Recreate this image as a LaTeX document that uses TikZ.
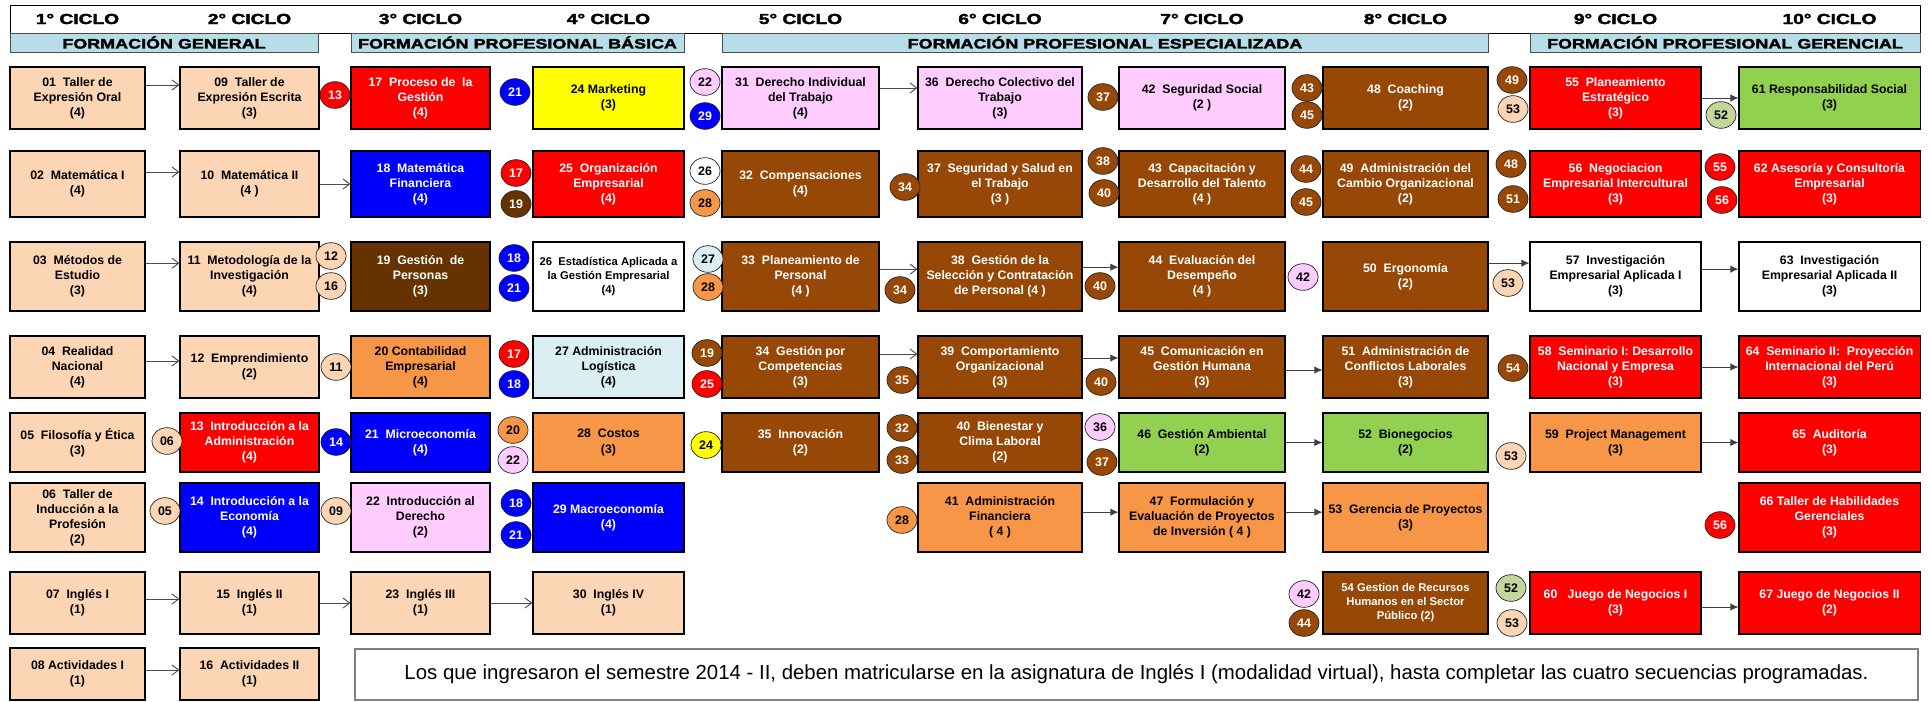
\documentclass[tikz,border=0pt]{standalone}
\usepackage{fontspec}
\setmainfont{Liberation Sans}
\newfontfamily\heavyfont[FakeStretch=1.32,FakeBold=2.5]{Liberation Sans Bold}
\usetikzlibrary{shapes.geometric,arrows.meta}

\definecolor{peach}{HTML}{FCD5B4}
\definecolor{redfill}{HTML}{FF0000}
\definecolor{bluefill}{HTML}{0000FF}
\definecolor{yellowfill}{HTML}{FFFF00}
\definecolor{darkbrown}{HTML}{663300}
\definecolor{chestnut}{HTML}{974706}
\definecolor{orangefill}{HTML}{F79646}
\definecolor{pinkfill}{HTML}{FFCCFF}
\definecolor{greenfill}{HTML}{92D050}
\definecolor{iceblue}{HTML}{DBEEF3}
\definecolor{bandblue}{HTML}{B7DEE8}
\definecolor{sage}{HTML}{C4D79B}

\newcommand{\coursefont}{\fontsize{10.5pt}{12.9pt}\selectfont\bfseries}
\newcommand{\smallcoursefont}{\fontsize{9.6pt}{11.9pt}\selectfont\bfseries}
\newcommand{\badgefont}{\fontsize{10.6pt}{11pt}\selectfont\bfseries}

\begin{document}
\begin{tikzpicture}[x=0.03cm, y=-0.03cm,
  course/.style={draw=black, line width=0.9pt, align=center, inner sep=1pt, font=\coursefont},
  pre/.style={ellipse, draw=black!85, line width=0.6pt, inner sep=0pt, minimum width=0.9cm, minimum height=0.8cm, font=\badgefont},
  cycle/.style={font=\heavyfont\fontsize{12.4pt}{13pt}\selectfont},
  band/.style={draw=black!70, line width=0.8pt, fill=bandblue, minimum height=0.57cm, inner sep=0pt, font=\heavyfont\fontsize{11.6pt}{12pt}\selectfont},
  note/.style={draw=black!50, line width=1.2pt, minimum width=46.89cm, minimum height=1.53cm, font=\fontsize{17.4pt}{19pt}\selectfont},
  link/.style={-{Straight Barb[length=2mm,width=3mm]}, draw=black!70, line width=0.8pt},
  flow/.style={-{Latex[length=2.4mm,width=2.2mm]}, draw=black!75, line width=0.8pt},
  w1/.style={minimum width=4.05cm}, w2/.style={minimum width=4.17cm},
  w3/.style={minimum width=4.17cm}, w4/.style={minimum width=4.53cm},
  w5/.style={minimum width=4.71cm}, w6/.style={minimum width=4.92cm},
  w7/.style={minimum width=4.98cm}, w8/.style={minimum width=4.95cm},
  w9/.style={minimum width=5.13cm}, w10/.style={minimum width=5.43cm},
  h1/.style={minimum height=1.86cm}, h2/.style={minimum height=1.98cm},
  h3/.style={minimum height=2.07cm}, h4/.style={minimum height=1.86cm},
  h5/.style={minimum height=1.77cm}, h6/.style={minimum height=2.07cm},
  h7/.style={minimum height=1.86cm}, h8/.style={minimum height=1.56cm},
  kPeach/.style={fill=peach}, kRed/.style={fill=redfill, text=white},
  kBlue/.style={fill=bluefill, text=white}, kYellow/.style={fill=yellowfill},
  kDark/.style={fill=darkbrown, text=white}, kBrown/.style={fill=chestnut, text=white},
  kOrange/.style={fill=orangefill}, kPink/.style={fill=pinkfill},
  kGreen/.style={fill=greenfill}, kIce/.style={fill=iceblue},
  kWhite/.style={fill=white}, kSage/.style={fill=sage}]
  \useasboundingbox (0,0) rectangle (1931,702);
  \fill[white] (0,0) rectangle (1931,702);

  % header
  \draw[line width=0.8pt] (10,5) rectangle (1920,33);
  \node[cycle] (cic1) at (77.5,19) {1° CICLO};
  \node[cycle] (cic2) at (249.5,19) {2° CICLO};
  \node[cycle] (cic3) at (420.5,19) {3° CICLO};
  \node[cycle] (cic4) at (608.5,19) {4° CICLO};
  \node[cycle] (cic5) at (800.5,19) {5° CICLO};
  \node[cycle] (cic6) at (1000,19) {6° CICLO};
  \node[cycle] (cic7) at (1202,19) {7° CICLO};
  \node[cycle] (cic8) at (1405.5,19) {8° CICLO};
  \node[cycle] (cic9) at (1615.5,19) {9° CICLO};
  \node[cycle] (cic10) at (1829.5,19) {10° CICLO};
  \node[band, minimum width=9.24cm] (fgen) at (164,42.5) {FORMACIÓN GENERAL};
  \node[band, minimum width=9.99cm] (fbas) at (517.5,42.5) {FORMACIÓN PROFESIONAL BÁSICA};
  \node[band, minimum width=22.98cm] (fesp) at (1105,42.5) {FORMACIÓN PROFESIONAL ESPECIALIZADA};
  \node[band, minimum width=11.7cm] (fger) at (1725,42.5) {FORMACIÓN PROFESIONAL GERENCIAL};

  % row 1
  \node[course, kPeach, w1, h1] (c01) at (77.5,98) {01~ Taller de\\Expresión Oral\\(4)};
  \node[course, kPeach, w2, h1] (c09) at (249.5,98) {09~ Taller de\\Expresión Escrita\\(3)};
  \node[course, kRed, w3, h1] (c17) at (420.5,98) {17~ Proceso de~ la\\Gestión\\(4)};
  \node[course, kYellow, w4, h1] (c24) at (608.5,98) {24 Marketing\\(3)};
  \node[course, kPink, w5, h1] (c31) at (800.5,98) {31~ Derecho Individual\\del Trabajo\\(4)};
  \node[course, kPink, w6, h1] (c36) at (1000,98) {36~ Derecho Colectivo del\\Trabajo\\(3)};
  \node[course, kPink, w7, h1] (c42) at (1202,98) {42~ Seguridad Social\\(2 )};
  \node[course, kBrown, w8, h1] (c48) at (1405.5,98) {48~ Coaching\\(2)};
  \node[course, kRed, w9, h1] (c55) at (1615.5,98) {55~ Planeamiento\\Estratégico\\(3)};
  \node[course, kGreen, w10, h1] (c61) at (1829.5,98) {61 Responsabilidad Social\\(3)};

  % row 2
  \node[course, kPeach, w1, h2] (c02) at (77.5,184) {02~ Matemática I\\(4)};
  \node[course, kPeach, w2, h2] (c10) at (249.5,184) {10~ Matemática II\\(4 )};
  \node[course, kBlue, w3, h2] (c18) at (420.5,184) {18~ Matemática\\Financiera\\(4)};
  \node[course, kRed, w4, h2] (c25) at (608.5,184) {25~ Organización\\Empresarial\\(4)};
  \node[course, kBrown, w5, h2] (c32) at (800.5,184) {32~ Compensaciones\\(4)};
  \node[course, kBrown, w6, h2] (c37) at (1000,184) {37~ Seguridad y Salud en\\el Trabajo\\(3 )};
  \node[course, kBrown, w7, h2] (c43) at (1202,184) {43~ Capacitación y\\Desarrollo del Talento\\(4 )};
  \node[course, kBrown, w8, h2] (c49) at (1405.5,184) {49~ Administración del\\Cambio Organizacional\\(2)};
  \node[course, kRed, w9, h2] (c56) at (1615.5,184) {56~ Negociacion\\Empresarial Intercultural\\(3)};
  \node[course, kRed, w10, h2] (c62) at (1829.5,184) {62 Asesoría y Consultoría\\Empresarial\\(3)};

  % row 3
  \node[course, kPeach, w1, h3] (c03) at (77.5,276.5) {03~ Métodos de\\Estudio\\(3)};
  \node[course, kPeach, w2, h3] (c11) at (249.5,276.5) {11~ Metodología de la\\Investigación\\(4)};
  \node[course, kDark, w3, h3] (c19) at (420.5,276.5) {19~ Gestión~ de\\Personas\\(3)};
  \node[course, kWhite, w4, h3, font=\smallcoursefont] (c26) at (608.5,276.5) {26~ Estadística Aplicada a\\la Gestión Empresarial\\(4)};
  \node[course, kBrown, w5, h3] (c33) at (800.5,276.5) {33~ Planeamiento de\\Personal\\(4 )};
  \node[course, kBrown, w6, h3] (c38) at (1000,276.5) {38~ Gestión de la\\Selección y Contratación\\de Personal (4 )};
  \node[course, kBrown, w7, h3] (c44) at (1202,276.5) {44~ Evaluación del\\Desempeño\\(4 )};
  \node[course, kBrown, w8, h3] (c50) at (1405.5,276.5) {50~ Ergonomía\\(2)};
  \node[course, kWhite, w9, h3] (c57) at (1615.5,276.5) {57~ Investigación\\Empresarial Aplicada I\\(3)};
  \node[course, kWhite, w10, h3] (c63) at (1829.5,276.5) {63~ Investigación\\Empresarial Aplicada II\\(3)};

  % row 4
  \node[course, kPeach, w1, h4] (c04) at (77.5,367) {04~ Realidad\\Nacional\\(4)};
  \node[course, kPeach, w2, h4] (c12) at (249.5,367) {12~ Emprendimiento\\(2)};
  \node[course, kOrange, w3, h4] (c20) at (420.5,367) {20 Contabilidad\\Empresarial\\(4)};
  \node[course, kIce, w4, h4] (c27) at (608.5,367) {27 Administración\\Logística\\(4)};
  \node[course, kBrown, w5, h4] (c34) at (800.5,367) {34~ Gestión por\\Competencias\\(3)};
  \node[course, kBrown, w6, h4] (c39) at (1000,367) {39~ Comportamiento\\Organizacional\\(3)};
  \node[course, kBrown, w7, h4] (c45) at (1202,367) {45~ Comunicación en\\Gestión Humana\\(3)};
  \node[course, kBrown, w8, h4] (c51) at (1405.5,367) {51~ Administración de\\Conflictos Laborales\\(3)};
  \node[course, kRed, w9, h4] (c58) at (1615.5,367) {58~ Seminario I: Desarrollo\\Nacional y Empresa\\(3)};
  \node[course, kRed, w10, h4] (c64) at (1829.5,367) {64~ Seminario II:~ Proyección\\Internacional del Perú\\(3)};

  % row 5
  \node[course, kPeach, w1, h5] (c05) at (77.5,442.5) {05~ Filosofía y Ética\\(3)};
  \node[course, kRed, w2, h5] (c13) at (249.5,442.5) {13~ Introducción a la\\Administración\\(4)};
  \node[course, kBlue, w3, h5] (c21) at (420.5,442.5) {21~ Microeconomía\\(4)};
  \node[course, kOrange, w4, h5] (c28) at (608.5,442.5) {28~ Costos\\(3)};
  \node[course, kBrown, w5, h5] (c35) at (800.5,442.5) {35~ Innovación\\(2)};
  \node[course, kBrown, w6, h5] (c40) at (1000,442.5) {40~ Bienestar y\\Clima Laboral\\(2)};
  \node[course, kGreen, w7, h5] (c46) at (1202,442.5) {46~ Gestión Ambiental\\(2)};
  \node[course, kGreen, w8, h5] (c52) at (1405.5,442.5) {52~ Bionegocios\\(2)};
  \node[course, kOrange, w9, h5] (c59) at (1615.5,442.5) {59~ Project Management\\(3)};
  \node[course, kRed, w10, h5] (c65) at (1829.5,442.5) {65~ Auditoría\\(3)};

  % row 6
  \node[course, kPeach, w1, h6] (c06) at (77.5,517.5) {06~ Taller de\\Inducción a la\\Profesión\\(2)};
  \node[course, kBlue, w2, h6] (c14) at (249.5,517.5) {14~ Introducción a la\\Economía\\(4)};
  \node[course, kPink, w3, h6] (c22) at (420.5,517.5) {22~ Introducción al\\Derecho\\(2)};
  \node[course, kBlue, w4, h6] (c29) at (608.5,517.5) {29 Macroeconomía\\(4)};
  \node[course, kOrange, w6, h6] (c41) at (1000,517.5) {41~ Administración\\Financiera\\( 4 )};
  \node[course, kOrange, w7, h6] (c47) at (1202,517.5) {47~ Formulación y\\Evaluación de Proyectos\\de Inversión ( 4 )};
  \node[course, kOrange, w8, h6] (c53) at (1405.5,517.5) {53~ Gerencia de Proyectos\\(3)};
  \node[course, kRed, w10, h6] (c66) at (1829.5,517.5) {66 Taller de Habilidades\\Gerenciales\\(3)};

  % row 7
  \node[course, kPeach, w1, h7] (c07) at (77.5,603) {07~ Inglés I\\(1)};
  \node[course, kPeach, w2, h7] (c15) at (249.5,603) {15~ Inglés II\\(1)};
  \node[course, kPeach, w3, h7] (c23) at (420.5,603) {23~ Inglés III\\(1)};
  \node[course, kPeach, w4, h7] (c30) at (608.5,603) {30~ Inglés IV\\(1)};
  \node[course, kBrown, w8, h7, font=\smallcoursefont] (c54) at (1405.5,603) {54 Gestion de Recursos\\Humanos en el Sector\\Público (2)};
  \node[course, kRed, w9, h7] (c60) at (1615.5,603) {60~~ Juego de Negocios I\\(3)};
  \node[course, kRed, w10, h7] (c67) at (1829.5,603) {67 Juego de Negocios II\\(2)};

  % row 8
  \node[course, kPeach, w1, h8] (c08) at (77.5,674) {08 Actividades I\\(1)};
  \node[course, kPeach, w2, h8] (c16) at (249.5,674) {16~ Actividades II\\(1)};
  \node[note] (nota) at (1136.5,674.5) {Los que ingresaron el semestre 2014 - II, deben matricularse en la asignatura de Inglés I (modalidad virtual), hasta completar las cuatro secuencias programadas.};

  % prerequisites
  \node[pre, kRed] (p17a) at (335,95) {13};
  \node[pre, kBlue] (p24a) at (515,92) {21};
  \node[pre, kPink] (p31a) at (705,82) {22};
  \node[pre, kBlue] (p31b) at (705,116) {29};
  \node[pre, kBrown] (p42a) at (1103,97) {37};
  \node[pre, kBrown] (p48a) at (1307,88) {43};
  \node[pre, kBrown] (p48b) at (1307,115) {45};
  \node[pre, kBrown] (p55a) at (1512,80) {49};
  \node[pre, kPeach] (p55b) at (1513,109) {53};
  \node[pre, kSage] (p61a) at (1721,115) {52};

  \node[pre, kRed] (p25a) at (516,173) {17};
  \node[pre, kDark] (p25b) at (516,204) {19};
  \node[pre, kWhite] (p32a) at (705,171) {26};
  \node[pre, kOrange] (p32b) at (705,203) {28};
  \node[pre, kBrown] (p37a) at (905,187) {34};
  \node[pre, kBrown] (p43a) at (1103,161) {38};
  \node[pre, kBrown] (p43b) at (1104,193) {40};
  \node[pre, kBrown] (p49a) at (1306,169) {44};
  \node[pre, kBrown] (p49b) at (1306,202) {45};
  \node[pre, kBrown] (p56a) at (1511,164) {48};
  \node[pre, kBrown] (p56b) at (1513,199) {51};
  \node[pre, kRed] (p62a) at (1720,167) {55};
  \node[pre, kRed] (p62b) at (1722,200) {56};

  \node[pre, kPeach] (p19a) at (331,256) {12};
  \node[pre, kPeach] (p19b) at (331,286) {16};
  \node[pre, kBlue] (p26a) at (514,258) {18};
  \node[pre, kBlue] (p26b) at (514,288) {21};
  \node[pre, kIce] (p33a) at (708,259) {27};
  \node[pre, kOrange] (p33b) at (708,287) {28};
  \node[pre, kBrown] (p38a) at (900,290) {34};
  \node[pre, kBrown] (p44a) at (1100,286) {40};
  \node[pre, kPink] (p50a) at (1303,277) {42};
  \node[pre, kPeach] (p57a) at (1508,283) {53};

  \node[pre, kPeach] (p20a) at (336,367) {11};
  \node[pre, kRed] (p27a) at (514,354) {17};
  \node[pre, kBlue] (p27b) at (514,384) {18};
  \node[pre, kBrown] (p34a) at (707,353) {19};
  \node[pre, kRed] (p34b) at (707,384) {25};
  \node[pre, kBrown] (p39a) at (902,380) {35};
  \node[pre, kBrown] (p45a) at (1101,382) {40};
  \node[pre, kBrown] (p58a) at (1513,368) {54};

  \node[pre, kPeach] (p13a) at (167,441) {06};
  \node[pre, kBlue] (p21a) at (336,442) {14};
  \node[pre, kOrange] (p28a) at (513,430) {20};
  \node[pre, kPink] (p28b) at (513,460) {22};
  \node[pre, kYellow] (p35a) at (706,445) {24};
  \node[pre, kBrown] (p40a) at (902,428) {32};
  \node[pre, kBrown] (p40b) at (902,460) {33};
  \node[pre, kPink] (p46a) at (1100,427) {36};
  \node[pre, kBrown] (p46b) at (1102,462) {37};
  \node[pre, kPeach] (p59a) at (1511,456) {53};

  \node[pre, kPeach] (p14a) at (165,511) {05};
  \node[pre, kPeach] (p22a) at (336,511) {09};
  \node[pre, kBlue] (p29a) at (516,503) {18};
  \node[pre, kBlue] (p29b) at (516,535) {21};
  \node[pre, kOrange] (p41a) at (902,520) {28};
  \node[pre, kRed] (p66a) at (1720,525) {56};

  \node[pre, kPink] (p54a) at (1304,594) {42};
  \node[pre, kBrown] (p54b) at (1304,623) {44};
  \node[pre, kSage] (p60a) at (1511,588) {52};
  \node[pre, kPeach] (p60b) at (1512,623) {53};

  % sequences
  \draw[link] ([yshift=0.39cm]c01.east) -- ([yshift=0.39cm]c09.west);
  \draw[link] ([yshift=0.30cm]c31.east) -- ([yshift=0.30cm]c36.west);
  \draw[flow] (c55.east) -- (c61.west);
  \draw[link] ([yshift=0.36cm]c02.east) -- ([yshift=0.36cm]c10.west);
  \draw[link] (c10.east) -- (c18.west);
  \draw[link] ([yshift=0.40cm]c03.east) -- ([yshift=0.40cm]c11.west);
  \draw[link] ([yshift=0.22cm]c33.east) -- ([yshift=0.22cm]c38.west);
  \draw[flow] ([yshift=0.28cm]c38.east) -- ([yshift=0.28cm]c44.west);
  \draw[flow] ([yshift=0.40cm]c50.east) -- ([yshift=0.40cm]c57.west);
  \draw[flow] ([yshift=0.22cm]c57.east) -- ([yshift=0.22cm]c63.west);
  \draw[link] ([yshift=0.18cm]c04.east) -- ([yshift=0.18cm]c12.west);
  \draw[link] ([yshift=0.39cm]c34.east) -- ([yshift=0.39cm]c39.west);
  \draw[flow] ([yshift=0.27cm]c39.east) -- ([yshift=0.27cm]c45.west);
  \draw[flow] ([yshift=-0.09cm]c45.east) -- ([yshift=-0.09cm]c51.west);
  \draw[flow] (c58.east) -- (c64.west);
  \draw[flow] (c46.east) -- (c52.west);
  \draw[flow] (c59.east) -- (c65.west);
  \draw[flow] ([yshift=0.16cm]c41.east) -- ([yshift=0.16cm]c47.west);
  \draw[flow] ([yshift=0.16cm]c47.east) -- ([yshift=0.16cm]c53.west);
  \draw[link] ([yshift=0.12cm]c07.east) -- ([yshift=0.12cm]c15.west);
  \draw[link] (c15.east) -- (c23.west);
  \draw[link] (c23.east) -- (c30.west);
  \draw[flow] ([yshift=-0.12cm]c60.east) -- ([yshift=-0.12cm]c67.west);
  \draw[link] ([yshift=0.12cm]c08.east) -- ([yshift=0.12cm]c16.west);
\end{tikzpicture}
\end{document}
